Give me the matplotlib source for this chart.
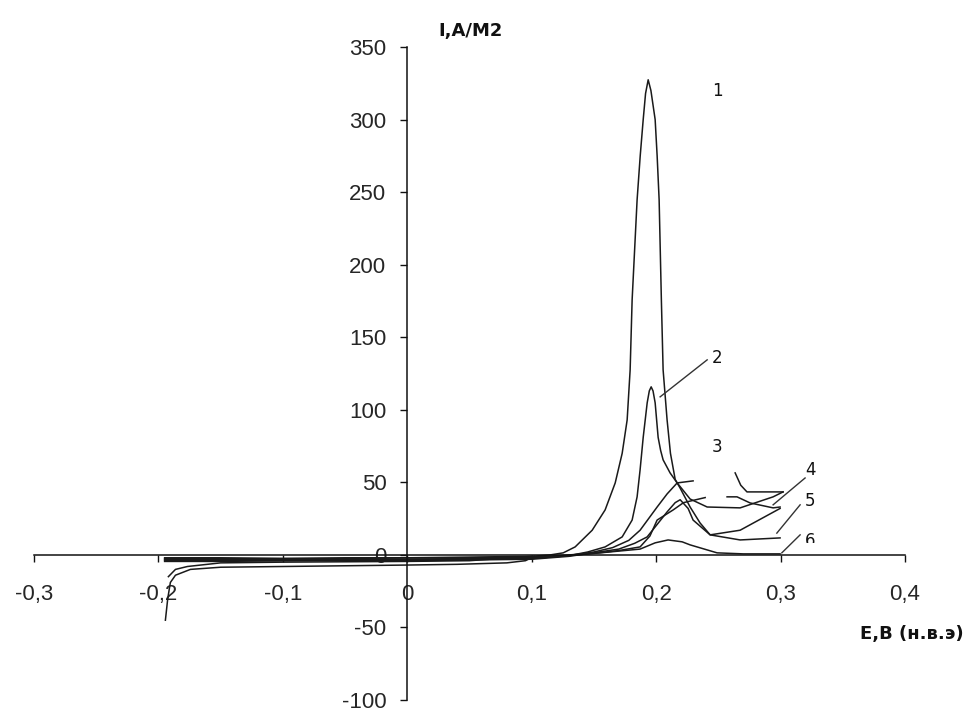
import numpy as np
import matplotlib
matplotlib.use("Agg")
import matplotlib.pyplot as plt
from matplotlib.transforms import Bbox, TransformedBbox

nan = np.nan

# ---- data (E in V, I in A/m2) ----
c1_x = [-0.195, -0.15, -0.1, -0.05, 0.0, 0.05, 0.1, 0.115, 0.1253, 0.1349, 0.1486, 0.159,
        0.1671, 0.1727, 0.1767, 0.1791, 0.1807, 0.1847, 0.1872, 0.1896, 0.1915, 0.1936,
        0.1958, 0.1992, 0.2008, 0.2024, 0.2042, 0.2056, 0.2088, 0.2115, 0.2153, 0.2193,
        0.2273, 0.2353, 0.2434, 0.2675, 0.2996]
c1_y = [-2, -2, -2.5, -2, -2, -1.5, -1, 0, 1.4, 5.5, 17, 31,
        49.6, 70, 93, 127.5, 175.7, 244.7, 275, 300, 318, 327.4,
        320, 300, 275, 244.7, 175.7, 127.5, 93, 70, 52, 46,
        33, 22, 13.8, 17, 32]

c2_x = [-0.195, -0.15, -0.1, -0.05, 0.0, 0.05, 0.1, 0.13, 0.145, 0.159, 0.1727, 0.1807,
        0.1847, 0.1871, 0.1896, 0.1928, 0.1945, 0.196, 0.1975, 0.1992, 0.2016, 0.2036,
        0.2056, 0.2112, 0.2169, 0.2273, 0.241, 0.2675, 0.294, 0.302]
c2_y = [-3, -3, -3, -3, -3, -2.5, -2, -0.5, 2, 5.5, 12.4, 24,
        40, 58.6, 81, 104.8, 113, 115.8, 113, 104.8, 81, 72,
        65.5, 56.5, 49.6, 38.5, 33, 32.4, 40, 43.4]

c3_x = [-0.195, -0.15, -0.1, -0.05, 0.0, 0.05, 0.1, 0.13, 0.15, 0.165, 0.178, 0.1871, 0.2008,
        0.2088, 0.2169, 0.2297, nan, 0.2635, 0.268, 0.273, 0.302]
c3_y = [-3.5, -3.5, -3.5, -3, -3, -3, -2.5, -0.5, 2, 5, 10, 17, 33,
        42, 49.6, 51, nan, 56.5, 48, 43.4, 43.4]

c4_x = [-0.195, -0.15, -0.1, -0.05, 0.0, 0.05, 0.1, 0.13, 0.15, 0.17, 0.1871, 0.195, 0.2008,
        0.2137, 0.222, 0.2394, nan, 0.257, 0.265, 0.2755, 0.294, 0.2996]
c4_y = [-4, -4, -4, -3.5, -3.5, -3, -2.5, -0.5, 1, 3, 5.5, 13, 24,
        31, 36, 39.5, nan, 40, 40, 35.8, 32.4, 33]

c5_x = [-0.195, -0.15, -0.1, -0.05, 0.0, 0.05, 0.1, 0.13, 0.15, 0.17, 0.1828, 0.1928, 0.2088,
        0.2153, 0.2193, 0.2257, 0.2297, 0.2434, 0.2675, 0.2996]
c5_y = [-4.5, -4.5, -4, -4, -4, -3.5, -3, -1, 1.5, 4, 8, 12.4, 29.6,
        36, 38, 32, 24, 13.8, 10.3, 11.7]

c6_x = [-0.195, -0.15, -0.1, -0.05, 0.0, 0.05, 0.1, 0.13, 0.155, 0.1871, 0.1992, 0.2096,
        0.2209, 0.2273, 0.249, 0.27, 0.2996]
c6_y = [-2.5, -2.5, -2.5, -2.5, -2, -2, -1.5, 0, 1.4, 4, 8.3, 10.3,
        9, 6.9, 1.4, 0.7, 0.7]

r1_x = [0.102, 0.095, 0.08, 0.04, 0.0, -0.05, -0.1, -0.15, -0.1743, -0.1863, -0.1904, -0.1925, -0.1944]
r1_y = [-1, -4, -5.5, -6.5, -7, -7.5, -8, -8.5, -10, -14, -19, -30, -45]

r2_x = [0.1, 0.05, 0.0, -0.1, -0.15, -0.1767, -0.1863, -0.192]
r2_y = [-1, -4, -4.5, -5, -5.5, -8, -10, -15]

curves = [(c1_x, c1_y), (c2_x, c2_y), (c3_x, c3_y), (c4_x, c4_y),
          (c5_x, c5_y), (c6_x, c6_y), (r1_x, r1_y), (r2_x, r2_y)]

x_ticks = [-0.3, -0.2, -0.1, 0.0, 0.1, 0.2, 0.3, 0.4]
x_ticklabels = ['-0,3', '-0,2', '-0,1', '0', '0,1', '0,2', '0,3', '0,4']
y_ticks = [-100, -50, 0, 50, 100, 150, 200, 250, 300, 350]
y_ticklabels = [str(v) for v in y_ticks]

curve_labels = ['1', '2', '3', '4', '5', '6']
label_pos = [(0.249, 319.8), (0.249, 135.8), (0.249, 74.4),
             (0.3237, 58.6), (0.3237, 37.2), (0.3237, 9.6)]
leaders = [None, ((0.241, 134.4), (0.2032, 108.9)), None,
           ((0.3197, 53.0), (0.294, 34.5)),
           ((0.3157, 34.5), (0.297, 15.0)),
           ((0.3157, 13.8), (0.301, 1.4))]

# ---- figure ----
fig = plt.figure(figsize=(9.75, 7.15), dpi=100)
ax = fig.add_axes([34/975, 15/715, 871/975, 653/715])
ax.set_xlim(-0.3, 0.4)
ax.set_ylim(-100, 350)

for xs, ys in curves:
    ax.plot(xs, ys, color='#1a1a1a', lw=1.1, solid_joinstyle='round')

for sp in ['top', 'right']:
    ax.spines[sp].set_visible(False)
ax.spines['left'].set_position(('data', 0))
ax.spines['bottom'].set_position(('data', 0))
for sp in ['left', 'bottom']:
    ax.spines[sp].set_color('#111111')
    ax.spines[sp].set_linewidth(1.1)

tick_font = dict(family='Liberation Sans', size=16, color='#262626')
ax.set_xticks(x_ticks)
ax.set_xticklabels(x_ticklabels, **tick_font)
ax.set_yticks(y_ticks)
ax.set_yticklabels(y_ticklabels, **tick_font)
ax.tick_params(axis='x', direction='out', length=5, width=1.0, pad=16, color='#111111')
ax.tick_params(axis='y', direction='out', length=5, width=1.0, pad=10, color='#111111')

fig.text(471/975, 1 - 31/715, 'I,A/M2', ha='center', va='center',
         family='DejaVu Sans', weight='bold', size=13, color='#111111')
fig.text(912/975, 1 - 634/715, 'E,B (н.в.э)', ha='center', va='center',
         family='DejaVu Sans', weight='bold', size=13, color='#111111')

for i, (lab, (lx, ly)) in enumerate(zip(curve_labels, label_pos)):
    t = ax.text(lx, ly, lab, ha='center', va='center', family='DejaVu Sans',
                size=12, color='#111111')
    if lab == '6':
        t.set_clip_box(TransformedBbox(Bbox([[0.29, 8.3], [0.36, 40]]), ax.transData))
        t.set_clip_on(True)
    if leaders[i] is not None:
        (x0, y0), (x1, y1) = leaders[i]
        ax.plot([x0, x1], [y0, y1], color='#333333', lw=1.0)

fig.savefig('out.png', dpi=100)
